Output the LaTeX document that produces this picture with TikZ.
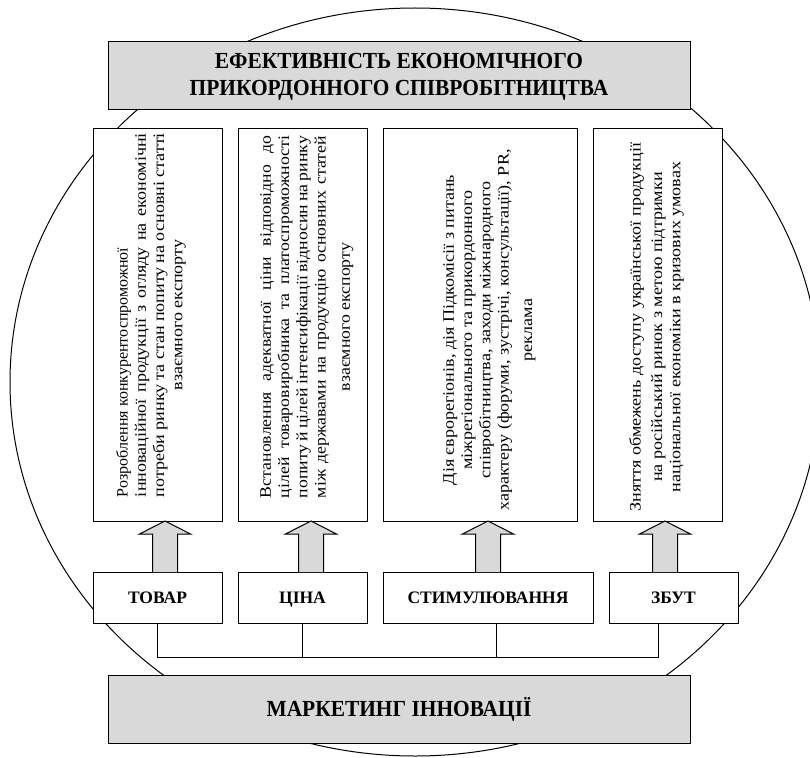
\documentclass[tikz,border=0pt]{standalone}
\usepackage{fontspec}
\setmainfont{Liberation Serif}[BoldFont={Liberation Serif Bold}]
\newfontfamily\vfontA{Liberation Serif}
\newfontfamily\vfontB{Liberation Serif}[FakeStretch=1.11]
\newfontfamily\vfontC{Liberation Serif}[FakeStretch=1.13]
\newfontfamily\hbfont{Liberation Serif Bold}[FakeStretch=0.93]
\usetikzlibrary{calc}
\definecolor{boxgray}{HTML}{D9D9D9}
\tikzset{
  box/.style={draw, line width=1pt, fill=white, inner sep=0pt, outer sep=0pt},
  graybox/.style={box, fill=boxgray},
  vtext/.style={rotate=90, inner sep=0pt, align=center},
  vB/.style={vtext, font=\vfontB\fontsize{16}{18.3}\selectfont},
  vC/.style={vtext, font=\vfontC\fontsize{16}{18.3}\selectfont},
  lab/.style={font=\fontsize{17.5}{20}\selectfont\bfseries, text height=11.6pt, text depth=0pt},
  biglab/.style={align=center, font=\hbfont\fontsize{23}{27.6}\selectfont},
  barrow/.style={draw, line width=1pt, fill=boxgray, line join=miter},
  conn/.style={line width=1pt},
}
\newcommand\blockarr[3]{%
  \draw[barrow] let \p1=(#2.north), \p2=(#3.south) in
    (#1pt-12.5pt,\y1) -- (#1pt-12.5pt,\y2-13pt) -- (#1pt-25.5pt,\y2-13pt) --
    (#1pt,\y2) -- (#1pt+25.5pt,\y2-13pt) -- (#1pt+12.5pt,\y2-13pt) -- (#1pt+12.5pt,\y1);
}
\begin{document}
\begin{tikzpicture}[x=1pt, y=-1pt]
\useasboundingbox (0,0) rectangle (810,757);
\clip (0,0) rectangle (810,757);
\fill[white] (0,0) rectangle (810,757);
% big ellipse
\draw[line width=1pt] (415,382) ellipse [x radius=405, y radius=374];
% top box
\node[graybox, minimum width=582pt, minimum height=68pt] (top) at (399,76) {};
\node[biglab] (toptxt) at (399,77) {ЕФЕКТИВНІСТЬ ЕКОНОМІЧНОГО\\ПРИКОРДОННОГО СПІВРОБІТНИЦТВА};
% text boxes
\node[box, minimum width=129pt, minimum height=393pt] (t1) at (157.5,324.5) {};
\node[box, minimum width=129pt, minimum height=393pt] (t2) at (302.5,324.5) {};
\node[box, minimum width=194pt, minimum height=393pt] (t3) at (480,324.5) {};
\node[box, minimum width=129pt, minimum height=393pt] (t4) at (657.5,324.5) {};
\node[vC] (x1) at (151,315) {%
  \makebox[364pt][l]{\vfontA Розроблення конкурентоспроможної}\\
  \makebox[364pt][s]{інноваційної продукції з огляду на економічні}\\
  \makebox[364pt][s]{потреби ринку та стан попиту на основні статті}\\
  \makebox[364pt][c]{взаємного експорту}};
\node[vB] (x2) at (306.8,317) {%
  \makebox[362pt][s]{Встановлення адекватної ціни відповідно до}\\
  \makebox[362pt][s]{цілей товаровиробника та платоспроможності}\\
  \makebox[362pt][s]{попиту й цілей інтенсифікації відносин на ринку}\\
  \makebox[362pt][s]{між державами на продукцію основних статей}\\[6pt]
  \makebox[362pt][c]{взаємного експорту}};
\node[vC] (x3) at (489.3,330) {%
  Дія єврорегіонів, дія Підкомісії з питань\\
  міжрегіонального та прикордонного\\
  співробітництва, заходи міжнародного\\
  характеру (форуми, зустрічі, консультації), PR,\\[5pt]
  реклама};
\node[vC] (x4) at (656.5,327) {%
  Зняття обмежень доступу української продукції\\[3pt]
  на російський ринок з метою підтримки\\
  національної економіки в кризових умовах};
% category boxes
\node[box, lab, minimum width=129pt, minimum height=51pt] (c1) at (157.5,597.5) {ТОВАР};
\node[box, lab, minimum width=129pt, minimum height=51pt] (c2) at (302.5,597.5) {ЦІНА};
\node[box, lab, minimum width=210pt, minimum height=51pt] (c3) at (488,597.5) {СТИМУЛЮВАННЯ};
\node[box, lab, minimum width=129pt, minimum height=51pt] (c4) at (673.5,597.5) {ЗБУТ};
% block arrows
\blockarr{165}{c1}{t1}
\blockarr{311}{c2}{t2}
\blockarr{488}{c3}{t3}
\blockarr{665}{c4}{t4}
% bus
\coordinate (busL) at (157.5,657);
\coordinate (busR) at (658,657);
\draw[conn] (c1.south) -- (busL) -- (busR) -- (busR |- c4.south);
\draw[conn] (c2.south) -- (c2.south |- busL);
\draw[conn] ([xshift=8pt]c3.south) -- ([xshift=8pt]c3.south |- busL);
% bottom box
\node[graybox, biglab, text height=15.2pt, text depth=0pt, minimum width=582pt, minimum height=68pt] (mk) at (399,709) {МАРКЕТИНГ ІННОВАЦІЇ};
\end{tikzpicture}
\end{document}
